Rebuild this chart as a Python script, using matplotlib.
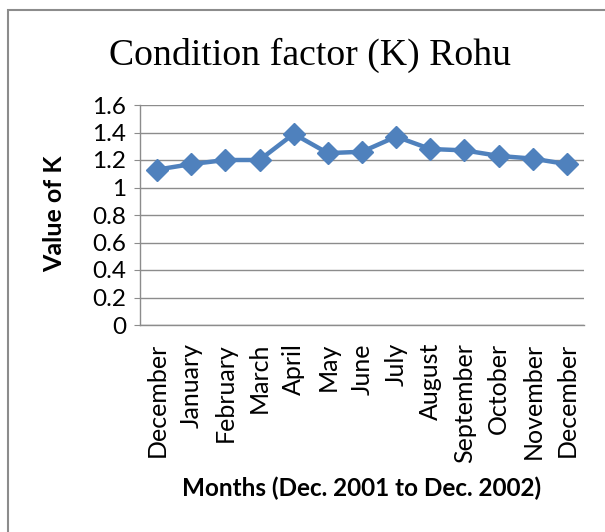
import matplotlib.pyplot as plt
from matplotlib.patches import Rectangle

# ------------------ Data ------------------
months = ["December", "January", "February", "March", "April", "May", "June",
          "July", "August", "September", "October", "November", "December"]
k_values = [1.13, 1.17, 1.20, 1.20, 1.39, 1.25, 1.26, 1.37, 1.28, 1.27, 1.23, 1.21, 1.17]
y_ticks = [0, 0.2, 0.4, 0.6, 0.8, 1, 1.2, 1.4, 1.6]
y_tick_labels = ["0", "0.2", "0.4", "0.6", "0.8", "1", "1.2", "1.4", "1.6"]

# ------------------ Figure ------------------
fig = plt.figure(figsize=(6.05, 5.32), dpi=100)
fig.patch.set_facecolor("white")

# outer chart frame (only left/top visible in the crop)
fig.patches.append(Rectangle((7.5 / 605, -0.1), 1.2, 1 - 9.5 / 532 + 0.1,
                             transform=fig.transFigure, fill=False,
                             edgecolor="#8c8c8c", linewidth=1.5))

ax = fig.add_axes([140 / 605, 1 - 325 / 532, 444 / 605, 220 / 532])
x = range(len(months))
ax.plot(x, k_values, color="#4F81BD", linewidth=3.2, marker="D",
        markersize=11.5, markeredgecolor="#4F81BD", zorder=3)

ax.set_xlim(-0.5, len(months) - 0.5)
ax.set_ylim(0, 1.6)
ax.set_yticks(y_ticks)
ax.set_yticklabels(y_tick_labels)
ax.set_xticks(list(x))
ax.set_xticklabels(months, rotation=90)

ax.yaxis.grid(True, color="#8c8c8c", linewidth=1)
ax.set_axisbelow(True)
for side in ["top", "right"]:
    ax.spines[side].set_visible(False)
for side in ["left", "bottom"]:
    ax.spines[side].set_color("#8c8c8c")
    ax.spines[side].set_linewidth(1)

ax.tick_params(axis="y", length=4, color="#8c8c8c", pad=6, labelsize=17.5)
ax.tick_params(axis="x", length=0, pad=13, labelsize=18)
for lbl in ax.get_xticklabels() + ax.get_yticklabels():
    lbl.set_family("Lato")

fig.text(310 / 605, 1 - 55 / 532, "Condition factor (K) Rohu",
         ha="center", va="center", family="Liberation Serif", fontsize=27.2)
fig.text(362 / 605, 1 - 488 / 532, "Months (Dec. 2001 to Dec. 2002)",
         ha="center", va="center", family="Lato", fontweight="bold", fontsize=17.5)
fig.text(55 / 605, 1 - 214 / 532, "Value of K", rotation=90,
         ha="center", va="center", family="Lato", fontweight="bold", fontsize=18)

fig.savefig("out.png", dpi=100)
